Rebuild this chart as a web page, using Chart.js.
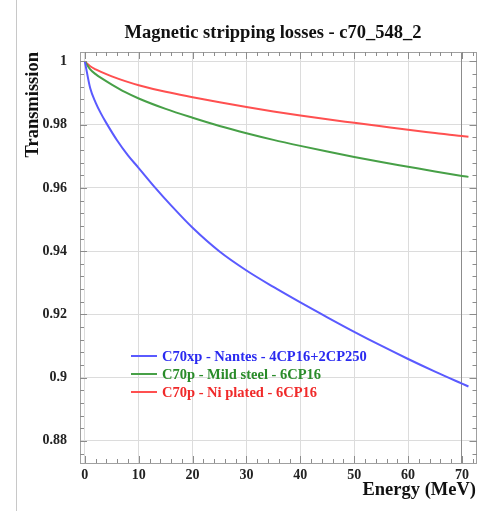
<!DOCTYPE html>
<html>
<head>
<meta charset="utf-8">
<script src="https://cdn.jsdelivr.net/npm/chart.js@4.4.1/dist/chart.umd.min.js"></script>
<style>
  html, body { margin: 0; padding: 0; background: #fff; }
  #wrap { position: relative; width: 477px; height: 511px; }
</style>
</head>
<body>
<div id="wrap"><canvas id="c" width="477" height="511"></canvas></div>
<script>
// Energy (MeV) sample points per curve
const energyNantes = [0, 1, 2, 3, 4, 6, 8, 10, 13, 16, 20, 25, 30, 35, 40, 45, 50, 55, 60, 65, 70, 71.2];
const transNantes  = [1, 0.9915, 0.987, 0.9835, 0.9805, 0.975, 0.9703, 0.9663, 0.9602, 0.9545, 0.9474, 0.9399, 0.9339, 0.9287, 0.9238, 0.9191, 0.9145, 0.9101, 0.9059, 0.9019, 0.8981, 0.8972];

const energySteel = [0, 1, 2, 3, 5, 7.5, 10, 15, 20, 25, 30, 35, 40, 45, 50, 55, 60, 65, 70, 71.2];
const transSteel  = [1, 0.9975, 0.9960, 0.9948, 0.9927, 0.9903, 0.9883, 0.9850, 0.9822, 0.9796, 0.9773, 0.9752, 0.9733, 0.9715, 0.9698, 0.9682, 0.9667, 0.9652, 0.9638, 0.9635];

const energyNickel = [0, 1, 2, 3, 5, 7.5, 10, 15, 20, 25, 30, 35, 40, 45, 50, 55, 60, 65, 70, 71.2];
const transNickel  = [1, 0.9985, 0.9975, 0.9967, 0.9953, 0.9938, 0.9925, 0.9904, 0.9887, 0.9871, 0.9856, 0.9842, 0.9829, 0.9817, 0.9806, 0.9795, 0.9784, 0.9774, 0.9764, 0.9762];

const seriesLabels = [
  'C70xp - Nantes - 4CP16+2CP250',
  'C70p - Mild steel - 6CP16',
  'C70p - Ni plated - 6CP16'
];
const chartTitle = 'Magnetic stripping losses - c70_548_2';
const xMajorTicks = [0, 10, 20, 30, 40, 50, 60, 70];
const yMajorTicks = [0.88, 0.9, 0.92, 0.94, 0.96, 0.98, 1];

const lineColors = ['#5a5aff', '#47a047', '#ff5050'];
const textColors = ['#2a2af0', '#2a8c2a', '#f02a2a'];

const toPoints = (xs, ys) => xs.map((x, i) => ({ x: x, y: ys[i] }));

const serif = "'Liberation Serif', 'DejaVu Serif', serif";
const isMajor = (v, list) => list.some(m => Math.abs(m - v) < 1e-6);

// page background, heading, left page rule, frame and inward tick marks
const framePlugin = {
  id: 'frame',
  beforeDraw(chart) {
    const c = chart.ctx, a = chart.chartArea;
    c.save();
    c.fillStyle = '#fff';
    c.fillRect(0, 0, chart.width, chart.height);
    c.strokeStyle = '#c8c8c8';
    c.lineWidth = 1;
    c.beginPath();
    c.moveTo(16.5, 0);
    c.lineTo(16.5, chart.height);
    c.stroke();
    c.fillStyle = '#111';
    c.font = "bold 18.5px " + serif;
    c.textAlign = 'center';
    c.textBaseline = 'middle';
    c.fillText(chartTitle, (a.left + a.right) / 2 - 5, a.top - 19);
    c.restore();
  },
  afterDraw(chart) {
    const a = chart.chartArea, c = chart.ctx;
    const xs = chart.scales.x, ys = chart.scales.y, edge = chart.scales.edge;
    c.save();
    c.strokeStyle = '#a0a0a0';
    c.lineWidth = 1;
    c.strokeRect(a.left + 0.5, a.top + 0.5, a.right - a.left, a.bottom - a.top);
    c.strokeStyle = '#8c8c8c';
    c.beginPath();
    xs.ticks.forEach(t => {
      const px = Math.round(xs.getPixelForValue(t.value)) + 0.5;
      const len = isMajor(t.value, xMajorTicks) ? 7 : 4;
      c.moveTo(px, a.bottom); c.lineTo(px, a.bottom - len);
      c.moveTo(px, a.top); c.lineTo(px, a.top + len);
    });
    const ex = Math.round(edge.left) + 0.5;
    ys.ticks.forEach(t => {
      const py = Math.round(ys.getPixelForValue(t.value)) + 0.5;
      const len = isMajor(t.value, yMajorTicks) ? 7 : 4;
      c.moveTo(a.left, py); c.lineTo(a.left + len, py);
      c.moveTo(ex - len, py); c.lineTo(ex + len, py);
    });
    c.stroke();
    c.restore();
  }
};

// legend drawn inside the plotting area
const innerLegend = {
  id: 'innerLegend',
  afterDatasetsDraw(chart) {
    const a = chart.chartArea, c = chart.ctx;
    c.save();
    c.font = "bold 14.5px " + serif;
    c.textBaseline = 'middle';
    chart.data.datasets.forEach((ds, i) => {
      const y = a.top + 304 + i * 18;
      c.strokeStyle = ds.borderColor;
      c.lineWidth = 2;
      c.beginPath();
      c.moveTo(a.left + 51, y);
      c.lineTo(a.left + 77, y);
      c.stroke();
      c.fillStyle = textColors[i];
      c.fillText(ds.label, a.left + 82, y + 1);
    });
    c.restore();
  }
};

new Chart(document.getElementById('c'), {
  type: 'line',
  data: {
    datasets: [
      { label: seriesLabels[0], data: toPoints(energyNantes, transNantes), borderColor: lineColors[0] },
      { label: seriesLabels[1], data: toPoints(energySteel, transSteel), borderColor: lineColors[1] },
      { label: seriesLabels[2], data: toPoints(energyNickel, transNickel), borderColor: lineColors[2] }
    ].map(d => Object.assign(d, {
      borderWidth: 2, pointRadius: 0, fill: false,
      cubicInterpolationMode: 'monotone'
    }))
  },
  options: {
    responsive: false,
    animation: false,
    layout: { padding: { left: 0, right: 1, top: 52, bottom: 0 } },
    plugins: {
      legend: { display: false },
      tooltip: { enabled: false },
      title: { display: false }
    },
    scales: {
      x: {
        type: 'linear',
        min: -0.9,
        max: 72.6,
        afterFit(s) { s.height = 48; },
        border: { color: '#a0a0a0' },
        grid: {
          color: ctx => isMajor(ctx.tick.value, xMajorTicks) ? '#dcdcdc' : 'rgba(0,0,0,0)',
          drawTicks: false
        },
        ticks: {
          stepSize: 2,
          includeBounds: false,
          autoSkip: false,
          maxRotation: 0,
          padding: 4,
          color: '#222',
          font: { family: serif, size: 14, weight: 'bold' },
          callback: v => isMajor(v, xMajorTicks) ? String(Math.round(v)) : ''
        },
        title: {
          display: true,
          text: 'Energy (MeV)',
          align: 'end',
          color: '#111',
          font: { family: serif, size: 18.5, weight: 'bold' },
          padding: { top: 0, bottom: 10 }
        }
      },
      y: {
        type: 'linear',
        min: 0.873,
        max: 1.003,
        afterFit(s) { s.width = 80; },
        border: { color: '#a0a0a0' },
        grid: {
          color: ctx => isMajor(ctx.tick.value, yMajorTicks) ? '#dcdcdc' : 'rgba(0,0,0,0)',
          drawTicks: false
        },
        ticks: {
          stepSize: 0.004,
          includeBounds: false,
          autoSkip: false,
          padding: 13,
          color: '#222',
          font: { family: serif, size: 14, weight: 'bold' },
          callback: v => isMajor(v, yMajorTicks) ? String(parseFloat(v.toFixed(2))) : ''
        },
        title: {
          display: true,
          text: 'Transmission',
          align: 'end',
          color: '#111',
          font: { family: serif, size: 18.5, weight: 'bold' },
          padding: { top: 22, bottom: 0 }
        }
      },
      edge: {
        type: 'linear',
        axis: 'y',
        position: { x: 70 },
        min: 0.873,
        max: 1.003,
        border: { color: '#8c8c8c' },
        grid: { drawOnChartArea: false, drawTicks: false },
        ticks: { display: false }
      }
    }
  },
  plugins: [framePlugin, innerLegend]
});
</script>
</body>
</html>
